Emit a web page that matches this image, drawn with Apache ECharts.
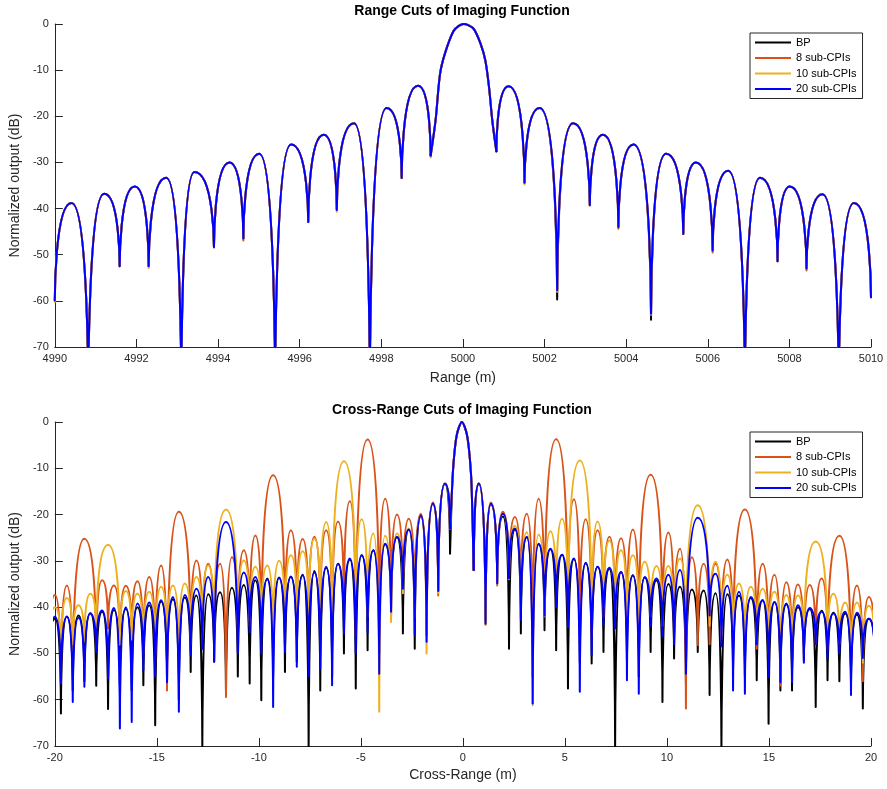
<!DOCTYPE html>
<html>
<head>
<meta charset="utf-8">
<script src="https://cdn.jsdelivr.net/npm/echarts@6/dist/echarts.min.js"></script>
<style>
  html, body { margin: 0; padding: 0; background: #ffffff; }
  #chart { width: 887px; height: 789px; }
</style>
</head>
<body>
<div id="chart"></div>
<script>
// ---------------------------------------------------------------------------
// Curves
// ---------------------------------------------------------------------------
const seriesNames = ['BP', '8 sub-CPIs', '10 sub-CPIs', '20 sub-CPIs'];

// ---------------------------------------------------------------------------
// Range cut: nulls, lobe peaks (null entry = main lobe, drawn on its own)
// ---------------------------------------------------------------------------
const rangeNullX = [4990.00, 4990.82, 4991.59, 4992.30, 4993.10, 4993.90, 4994.62, 4995.40,
  4996.21, 4996.91, 4997.72, 4998.50, 4999.21, 5000.82, 5001.51, 5002.31, 5003.11, 5003.81,
  5004.61, 5005.40, 5006.12, 5006.91, 5007.71, 5008.42, 5009.21, 5010.00];
const rangePeakX = [4990.41, 4991.21, 4991.96, 4992.73, 4993.42, 4994.28, 4995.01, 4995.79,
  4996.59, 4997.33, 4998.13, 4998.90, 5000.02, 5001.12, 5001.88, 5002.70, 5003.43, 5004.18,
  5004.98, 5005.71, 5006.50, 5007.28, 5008.01, 5008.81, 5009.58];
const rangePeakDb = [-38.8, -36.8, -35.2, -33.3, -32.1, -30.0, -28.1, -26.1, -24.0, -21.5,
  -18.2, -13.4, null, -13.5, -18.2, -21.5, -24.0, -26.1, -28.1, -30.0, -31.8, -33.3, -35.2,
  -36.9, -38.8];
// main lobe samples between its two nulls
const rangeMainLobe = [[4999.33, -20.9], [4999.44, -10.8], [4999.57, -6.1], [4999.77, -1.5],
  [4999.90, -0.4], [5000.02, 0], [5000.14, -0.3], [5000.27, -1.1], [5000.43, -4.2],
  [5000.55, -7.9], [5000.64, -13.7], [5000.72, -20.9]];
// null depths per curve
const rangeNullBP = [-59.9, -80, -52.5, -52.5, -80, -48.4, -46.5, -80, -42.9, -40.3, -80, -33.4,
  -28.5, -27.6, -34.4, -59.7, -39.3, -44.0, -64.1, -45.5, -49.1, -80, -51.4, -53.0, -80, -59.2];
const rangeNull8 = [-59.9, -80, -52.5, -52.5, -80, -48.4, -46.9, -80, -42.9, -40.3, -80, -33.4,
  -28.5, -27.6, -34.4, -57.9, -39.3, -44.4, -63.0, -45.5, -49.5, -80, -51.4, -53.4, -80, -59.2];
const rangeNull10 = [-60.3, -80, -52.5, -52.9, -80, -48.4, -46.5, -80, -42.9, -40.7, -80, -33.4,
  -28.9, -27.6, -34.8, -58.0, -39.3, -44.0, -63.0, -45.5, -49.1, -80, -51.4, -53.0, -80, -59.2];
const rangeNull20 = [-59.9, -80, -52.5, -52.5, -80, -48.4, -46.5, -80, -42.9, -40.3, -80, -33.4,
  -28.5, -27.6, -34.4, -57.7, -39.3, -44.0, -62.8, -45.5, -49.1, -80, -51.4, -53.0, -80, -59.2];

// ---------------------------------------------------------------------------
// Cross-range cut: shared null grid and sidelobe peak positions
// ---------------------------------------------------------------------------
const crossNullX = [-20.28, -19.70, -19.12, -18.55, -17.97, -17.39, -16.81, -16.23, -15.66,
  -15.08, -14.50, -13.92, -13.34, -12.77, -12.19, -11.61, -11.03, -10.45, -9.88, -9.30, -8.72,
  -8.14, -7.56, -6.99, -6.41, -5.83, -5.25, -4.67, -4.10, -3.52, -2.94, -2.36, -1.78, -1.21,
  -0.63,
  0.53, 1.11, 1.68, 2.26, 2.84, 3.42, 4.00, 4.57, 5.15, 5.73, 6.31, 6.89, 7.46, 8.04, 8.62,
  9.20, 9.78, 10.35, 10.93, 11.51, 12.09, 12.67, 13.24, 13.82, 14.40, 14.98, 15.56, 16.13,
  16.71, 17.29, 17.87, 18.45, 19.02, 19.60, 20.18];
const crossPeakX = [-19.99, -19.41, -18.84, -18.26, -17.68, -17.10, -16.52, -15.95, -15.37,
  -14.79, -14.21, -13.63, -13.06, -12.48, -11.90, -11.32, -10.74, -10.17, -9.59, -9.01, -8.43,
  -7.85, -7.28, -6.70, -6.12, -5.54, -4.96, -4.39, -3.81, -3.23, -2.65, -2.06, -1.47, -0.88,
  0.78, 1.37, 1.96, 2.55, 3.13, 3.71, 4.29, 4.86, 5.44, 6.02, 6.60, 7.18, 7.75, 8.33, 8.91,
  9.49, 10.07, 10.64, 11.22, 11.80, 12.38, 12.96, 13.53, 14.11, 14.69, 15.27, 15.85, 16.42,
  17.00, 17.58, 18.16, 18.74, 19.31, 19.89];
// main lobe samples between the two innermost nulls
const crossMainLobe = [[-0.53, -14.2], [-0.45, -8.4], [-0.30, -2.8], [-0.05, 0], [0.20, -2.8],
  [0.35, -8.4], [0.43, -14.2]];

// sidelobe peak levels (null = lobe taken over by a grating lobe)
const crossPeakBP = [-42.5, -42.0, -41.8, -41.3, -41.0, -40.6, -40.4, -40.0, -39.6, -38.8, -38.3,
  -37.9, -37.5, -37.2, -36.8, -35.8, -35.2, -34.2, -33.8, -33.6, -33.4, -33.0, -32.2, -31.5,
  -30.6, -29.7, -28.8, -27.7, -26.4, -24.9, -23.2, -20.4, -17.7, -13.4,
  -13.4, -17.8, -20.4, -23.2, -24.9, -26.4, -27.5, -28.7, -29.6, -30.5, -31.3, -31.7, -32.4,
  -33.1, -33.6, -34.2, -35.0, -35.6, -36.2, -36.4, -37.0, -37.2, -37.5, -38.0, -38.5, -38.9,
  -39.4, -40.0, -40.4, -40.8, -41.2, -41.4, -41.6, -42.5];
const crossPeak8 = [-37.4, -35.3, null, null, -34.2, -35.3, -35.4, -34.4, -33.5, -31.0, null,
  null, -29.9, -30.6, -30.6, -29.2, -27.7, -24.5, null, null, -23.4, -25.3, -24.8, -23.4, -21.5,
  -17.1, null, null, -16.6, -20.0, -20.9, -19.8, -17.4, -13.3,
  -13.3, -17.4, -19.4, -20.5, -19.8, -16.6, null, null, -16.7, -21.0, -23.4, -24.8, -25.1,
  -23.2, null, null, -23.9, -27.4, -29.2, -30.6, -30.6, -29.7, null, null, -30.6, -33.0, -34.6,
  -35.1, -35.2, -33.8, null, null, -35.3, -37.8];
const crossPeak10 = [-40.0, -38.0, -39.6, -37.1, null, null, -36.5, -37.1, -36.7, -35.6, -35.3,
  -34.9, -33.5, -31.0, null, null, -29.9, -31.3, -31.0, -30.0, -28.8, -27.9, -25.2, -21.6, null,
  null, -21.0, -24.1, -24.6, -24.1, -23.0, -20.3, -17.6, -13.3,
  -13.3, -17.6, -19.8, -22.4, -23.8, -24.3, -23.6, -20.9, null, null, -21.5, -25.6, -27.7,
  -28.8, -30.2, -31.1, -31.1, -29.5, null, null, -30.2, -33.0, -34.9, -35.6, -36.0, -36.7,
  -37.4, -37.5, null, null, -37.1, -39.0, -39.0, -39.7];
const crossPeak20 = [-42.1, -42.1, -42.3, -41.4, -40.7, -40.2, -40.0, -39.2, -39.0, -38.5, -37.8,
  -37.4, -36.0, -33.5, null, null, -32.5, -33.5, -34.0, -33.7, -33.5, -33.1, -32.5, -31.3,
  -30.6, -29.5, -28.8, -27.7, -26.3, -24.8, -23.2, -20.2, -17.6, -13.3,
  -13.3, -17.6, -19.8, -23.0, -24.8, -26.3, -27.4, -28.7, -29.5, -30.4, -31.3, -31.5, -32.4,
  -33.1, -33.5, -33.8, -33.0, -32.0, null, null, -32.8, -35.4, -36.7, -37.8, -38.5, -38.9,
  -39.2, -39.6, -40.2, -41.0, -41.4, -41.0, -41.2, -42.5];

// null depths on the shared grid
const crossNullBP = [-50, -63, -58, -56, -57, -62, -57, -58, -56.9, -65.5, -56.2, -60, -54, -72,
  -51.8, -59, -55, -56.5, -60.1, -55, -54, -51.8, -72, -58, -55, -50, -57.6, -49.3, -50, -41.8,
  -45.7, -49, -46, -36.5, -28.4,
  -32, -43, -34.8, -49, -45.7, -55, -45, -49.3, -57.6, -52, -52.2, -49.7, -72, -51.5, -55,
  -49.7, -60.5, -51.1, -56.5, -49.7, -59, -72, -53.3, -55, -55.8, -65.2, -58, -58, -51.5,
  -61.6, -55.8, -56, -57, -61.9, -50];
const crossNull8 = [-48, -56.2, -55.4, -50, -49, -44.6, -48.2, -46.1, -50, -52, -58, -50, -48,
  -47, -48, -59.4, -46, -44, -45, -45, -44, -42, -44, -43, -44, -40, -46, -40, -43, -40, -37,
  -40, -46, -37.5, -23,
  -32, -43.8, -35.3, -34, -38, -48, -42, -40, -42, -44, -46, -42, -42, -44, -45, -45, -44,
  -46, -61.9, -48.2, -48, -47, -48, -48, -49, -50, -57, -50, -50, -48, -49, -50, -53, -56, -48];
const crossNull10 = [-48, -50, -48, -47.5, -45, -45, -48, -47, -48, -50, -49, -50, -46, -45,
  -44, -44, -44, -43, -44, -47, -43, -42, -42, -40, -42, -40, -40, -42, -62.6, -43.2, -37, -42,
  -50, -37, -23,
  -32, -43.8, -35, -34, -40, -61.2, -41.8, -38, -40, -40, -42, -40, -42, -43, -43, -42, -44,
  -44, -46, -46, -44, -46, -47, -48, -47, -48, -50, -50, -47, -47, -47, -48, -52, -52, -48];
const crossNull20 = [-50, -56.5, -60.5, -57.2, -49.7, -55.4, -66.2, -64.8, -53.6, -55.1, -56.2,
  -62.6, -50.4, -49, -51.8, -50, -50, -45.4, -50, -61.6, -49.7, -52.9, -55, -53.3, -56.9, -45.7,
  -50, -45.4, -54.4, -41, -36, -46, -47.5, -36.5, -23,
  -32, -43.6, -34.9, -33.8, -42.8, -60.8, -41.8, -40, -44.3, -58.3, -50.4, -43.9, -44.6, -55.8,
  -58.7, -44, -46.4, -48, -54.4, -50, -41.8, -48.5, -58, -58.7, -48, -55, -56.2, -56.2, -52,
  -48, -51, -50, -59, -51, -50];

// grating lobes [position, peak level]
const crossGrating8 = [[-18.55, -25.2], [-13.92, -19.4], [-9.30, -11.5], [-4.67, -3.8],
  [4.57, -3.7], [9.20, -11.4], [13.82, -18.9], [18.45, -24.6]];
const crossGrating10 = [[-17.39, -26.5], [-11.61, -18.9], [-5.83, -8.5], [5.73, -8.3],
  [11.51, -18.0], [17.29, -25.8]];
const crossGrating20 = [[-11.61, -21.6], [11.51, -20.7]];

// ---------------------------------------------------------------------------
// Building the line data
// ---------------------------------------------------------------------------
// Each lobe is null -> peak -> null followed by a gap, so every arch is
// smoothed on its own and the nulls keep their sharp points.
function joinArches(arches) {
  const out = [];
  arches.forEach(([a, p, b]) => { out.push(a, p, b, [b[0], '-']); });
  return out;
}

function rangeArches(nullDb) {
  const arches = [];
  for (let i = 0; i < rangePeakX.length; i++) {
    if (rangePeakDb[i] === null) continue;
    arches.push([[rangeNullX[i], nullDb[i]], [rangePeakX[i], rangePeakDb[i]],
      [rangeNullX[i + 1], nullDb[i + 1]]]);
  }
  return joinArches(arches);
}
function rangeMain(nullDb) {
  const m = rangePeakDb.indexOf(null);
  return [[rangeNullX[m], nullDb[m]], ...rangeMainLobe, [rangeNullX[m + 1], nullDb[m + 1]]];
}

const crossMainIdx = crossNullX.findIndex((x, i) => x < 0 && crossNullX[i + 1] > 0);
function nearestNull(x) {
  let best = 0;
  crossNullX.forEach((v, i) => { if (Math.abs(v - x) < Math.abs(crossNullX[best] - x)) best = i; });
  return best;
}
function crossArches(peakDb, nullDb, gratings) {
  const grating = {};
  gratings.forEach(g => { grating[nearestNull(g[0])] = g; });
  const at = j => [crossNullX[j], nullDb[j]];
  const arches = [];
  for (let i = 0; i < crossNullX.length - 1; i++) {
    if (i === crossMainIdx) continue;
    if (grating[i + 1]) {
      arches.push([at(i), grating[i + 1], at(i + 2)]);
      i++;
      continue;
    }
    const p = i < crossMainIdx ? i : i - 1;
    if (peakDb[p] === null) continue;
    arches.push([at(i), [crossPeakX[p], peakDb[p]], at(i + 1)]);
  }
  return joinArches(arches);
}
function crossMain(nullDb) {
  const m = crossMainIdx;
  return [[crossNullX[m], nullDb[m]], ...crossMainLobe, [crossNullX[m + 1], nullDb[m + 1]]];
}

// ---------------------------------------------------------------------------
// Chart
// ---------------------------------------------------------------------------
const FONT = "'Liberation Sans', Arial, Helvetica, sans-serif";
const INK = '#262626';
const lineColors = { 'BP': '#000000', '8 sub-CPIs': '#D95319', '10 sub-CPIs': '#EDB120', '20 sub-CPIs': '#0000FF' };

function curve(name, data, axis, arched) {
  const c = lineColors[name];
  return {
    type: 'line', name, data, xAxisIndex: axis, yAxisIndex: axis,
    symbol: 'none', showSymbol: false, connectNulls: false, clip: true, silent: true,
    smooth: arched ? 1 : 0.3, smoothMonotone: arched ? 'x' : null,
    lineStyle: { color: c, width: 2, cap: 'round', join: 'round' },
    itemStyle: { color: c }
  };
}

const rangeNulls = [rangeNullBP, rangeNull8, rangeNull10, rangeNull20];
const crossPeaks = [crossPeakBP, crossPeak8, crossPeak10, crossPeak20];
const crossNulls = [crossNullBP, crossNull8, crossNull10, crossNull20];
const crossGratings = [[], crossGrating8, crossGrating10, crossGrating20];

const series = [];
seriesNames.forEach((name, s) => {
  series.push(curve(name, rangeArches(rangeNulls[s]), 0, true));
  series.push(curve(name, rangeMain(rangeNulls[s]), 0, false));
});
seriesNames.forEach((name, s) => {
  series.push(curve(name, crossArches(crossPeaks[s], crossNulls[s], crossGratings[s]), 1, true));
  series.push(curve(name, crossMain(crossNulls[s]), 1, false));
});

function xAxis(grid, min, max, interval, name, nameGap) {
  return {
    type: 'value', gridIndex: grid, min, max, interval,
    name, nameLocation: 'middle', nameGap,
    nameTextStyle: { color: INK, fontSize: 14, fontFamily: FONT },
    axisLine: { show: true, onZero: false, lineStyle: { color: INK, width: 1 } },
    axisTick: { show: true, inside: true, length: 8, lineStyle: { color: INK } },
    axisLabel: { color: INK, fontSize: 11, fontFamily: FONT, margin: 6, formatter: v => String(v) },
    splitLine: { show: false }
  };
}
function yAxis(grid) {
  return {
    type: 'value', gridIndex: grid, min: -70, max: 0, interval: 10,
    name: 'Normalized output (dB)', nameLocation: 'middle', nameGap: 27, nameRotate: 90,
    nameTextStyle: { color: INK, fontSize: 14, fontFamily: FONT },
    axisLine: { show: true, onZero: false, lineStyle: { color: INK, width: 1 } },
    axisTick: { show: true, inside: true, length: 8, lineStyle: { color: INK } },
    axisLabel: { color: INK, fontSize: 11, fontFamily: FONT, margin: 6, formatter: v => String(v) },
    splitLine: { show: false }
  };
}
function legend(top) {
  return {
    data: seriesNames, orient: 'vertical', left: 750, top,
    icon: 'rect', itemWidth: 36, itemHeight: 2, itemGap: 2.5,
    padding: [3, 6, 3, 5], backgroundColor: '#ffffff',
    borderColor: INK, borderWidth: 1, borderRadius: 0,
    selectedMode: false,
    textStyle: { color: '#000000', fontSize: 11, fontFamily: FONT, lineHeight: 13 }
  };
}

const chart = echarts.init(document.getElementById('chart'), null, { renderer: 'canvas' });
chart.setOption({
  animation: false,
  backgroundColor: '#ffffff',
  title: [
    { text: 'Range Cuts of Imaging Function', left: 462, top: 4, textAlign: 'center', padding: 0,
      textStyle: { color: '#000000', fontSize: 14, fontWeight: 'bold', fontFamily: FONT } },
    { text: 'Cross-Range Cuts of Imaging Function', left: 462, top: 403, textAlign: 'center', padding: 0,
      textStyle: { color: '#000000', fontSize: 14, fontWeight: 'bold', fontFamily: FONT } }
  ],
  grid: [
    { left: 53, right: 16, top: 24, height: 323 },
    { left: 53, right: 16, top: 422, height: 324 }
  ],
  xAxis: [
    xAxis(0, 4990, 5010, 2, 'Range (m)', 24),
    xAxis(1, -20, 20, 5, 'Cross-Range (m)', 22)
  ],
  yAxis: [yAxis(0), yAxis(1)],
  legend: [legend(33), legend(432)],
  series
});
</script>
</body>
</html>
